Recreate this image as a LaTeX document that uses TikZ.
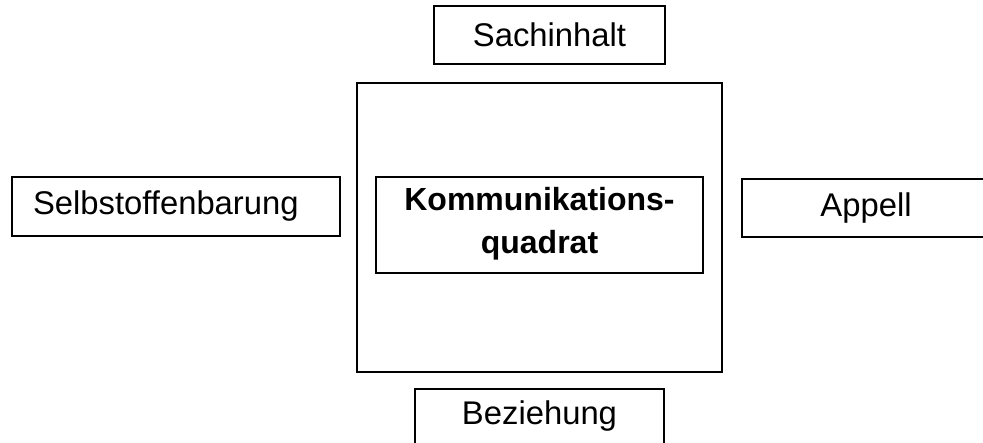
\documentclass[tikz,border=0pt]{standalone}
\usepackage{fontspec}
\setmainfont{Liberation Sans}

\begin{document}
\begin{tikzpicture}[x=1pt,y=-1pt,
    box/.style={draw, line width=1.8pt, inner sep=0pt, minimum height=58pt,
      font=\fontsize{32.8}{38}\selectfont},
    core/.style={draw, line width=1.8pt, inner sep=0pt, align=center,
      font=\fontsize{32}{43}\selectfont\bfseries}]
    % Page frame (the Appell box runs off the right edge)
    \path[use as bounding box, clip] (0,0) rectangle (983,443);

    % Outer square and centre box
    \node[draw, line width=1.8pt, minimum width=365pt, minimum height=289pt] (quad) at (539.5,227.5) {};
    \node[core, minimum width=327pt, minimum height=96pt, text depth=10pt] (kern) at (539.5,225) {Kommunikations-\\quadrat};

    % The four sides
    \node[box, minimum width=231pt] (sach) at (549.5,35) {Sachinhalt};
    \node[box, minimum width=328pt, minimum height=59pt, text width=286pt, align=left] (selbst) at (176,206.5) {Selbstoffenbarung};
    \node[box, minimum width=248pt] (appell) at (866,208) {Appell};
    \node[box, minimum width=249pt, text depth=10pt] (bez) at (539.5,418) {Beziehung};
\end{tikzpicture}
\end{document}
